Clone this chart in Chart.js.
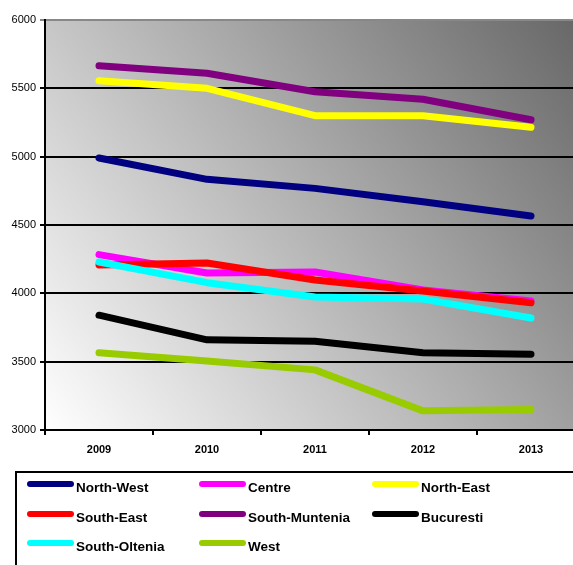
<!DOCTYPE html>
<html lang="en">
<head>
<meta charset="UTF-8"/>
<title>Regions</title>
<style>
  html, body { margin: 0; padding: 0; overflow: hidden; background: #fff; }
  #wrap { position: relative; width: 573px; height: 565px; overflow: hidden; }
  #myChart { position: absolute; left: 0; top: 0; }
  #legend {
    position: absolute; left: 15px; top: 471px; width: 600px; height: 120px;
    border: 2px solid #000; box-sizing: border-box;
    font-family: "Liberation Sans", Arial, sans-serif; font-weight: bold; font-size: 13.5px; color: #000;
  }
  .item { position: absolute; height: 16px; line-height: 16px; white-space: nowrap; }
  .item span.sw { position: absolute; left: 0; top: 3px; width: 47px; height: 6px; border-radius: 3px; }
  .item span.tx { position: absolute; left: 49px; top: 2px; }
</style>
</head>
<body>
<div id="wrap">
  <canvas id="myChart" width="590" height="565"></canvas>
  <div id="legend"></div>
</div>
<script src="https://cdn.jsdelivr.net/npm/chart.js"></script>
<script>
  var years = ['2009', '2010', '2011', '2012', '2013'];
  var regions = ['North-West', 'Centre', 'North-East', 'South-East', 'South-Muntenia', 'Bucuresti', 'South-Oltenia', 'West'];
  var colors = ['#000080', '#ff00ff', '#ffff00', '#ff0000', '#800080', '#000000', '#00ffff', '#99cc00'];

  var northWest = [4990, 4834, 4768, 4670, 4566];
  var centre = [4283, 4149, 4156, 4024, 3944];
  var northEast = [5555, 5500, 5300, 5300, 5215];
  var southEast = [4207, 4222, 4098, 4017, 3931];
  var southMuntenia = [5665, 5610, 5475, 5420, 5270];
  var bucuresti = [3840, 3660, 3650, 3565, 3555];
  var southOltenia = [4229, 4078, 3973, 3958, 3819];
  var west = [3565, 3505, 3440, 3140, 3150];

  var values = [northWest, centre, northEast, southEast, southMuntenia, bucuresti, southOltenia, west];

  // diagonal grey gradient behind the plot
  const bgPlugin = {
    id: 'bg',
    beforeDraw(chart) {
      const a = chart.chartArea, ctx = chart.ctx;
      const g = ctx.createLinearGradient(a.left, a.bottom, a.right, a.top);
      g.addColorStop(0, '#ffffff');
      g.addColorStop(1, '#666666');
      ctx.save();
      ctx.fillStyle = g;
      ctx.fillRect(a.left, a.top, a.right - a.left, a.bottom - a.top);
      ctx.restore();
    }
  };

  const datasets = regions.map((name, i) => ({
    label: name,
    data: values[i],
    borderColor: colors[i],
    backgroundColor: colors[i],
    borderWidth: 7,
    borderCapStyle: 'round',
    borderJoinStyle: 'round',
    pointRadius: 0,
    tension: 0,
    order: regions.length - i
  }));

  var myChart = new Chart(document.getElementById('myChart'), {
    type: 'line',
    data: { labels: years, datasets: datasets },
    plugins: [bgPlugin],
    options: {
      responsive: false,
      animation: false,
      layout: { padding: { top: 20, right: 5, left: 0, bottom: 0 } },
      plugins: { legend: { display: false }, tooltip: { enabled: false } },
      scales: {
        x: {
          offset: true,
          grid: { offset: true, drawOnChartArea: false, drawTicks: true, tickLength: 5, color: '#000', lineWidth: 2 },
          border: { color: '#000', width: 2 },
          ticks: { color: '#000', padding: 8, font: { family: 'Liberation Sans, Arial', size: 11, weight: 'bold' } },
          afterFit(scale) { scale.height = 135; }
        },
        y: {
          min: 3000, max: 6000,
          ticks: {
            stepSize: 500, color: '#000', padding: 4,
            font: { family: 'Liberation Sans, Arial', size: 11 },
            callback: (v) => String(v)
          },
          grid: {
            tickLength: 5,
            lineWidth: 2,
            color: (c) => (c.tick && c.tick.value === 6000) ? '#888888' : '#000000'
          },
          border: { color: '#000', width: 2 },
          afterFit(scale) { scale.width = 45; }
        }
      }
    }
  });

  // legend in three columns, built from the same arrays
  var leg = document.getElementById('legend');
  var colX = [10, 182, 355];
  var rowY = [5, 35, 64];
  regions.forEach(function (name, i) {
    var d = document.createElement('div');
    d.className = 'item';
    d.style.left = colX[i % 3] + 'px';
    d.style.top = rowY[Math.floor(i / 3)] + 'px';
    d.innerHTML = '<span class="sw" style="background:' + colors[i] + '"></span><span class="tx">' + name + '</span>';
    leg.appendChild(d);
  });
</script>
</body>
</html>
